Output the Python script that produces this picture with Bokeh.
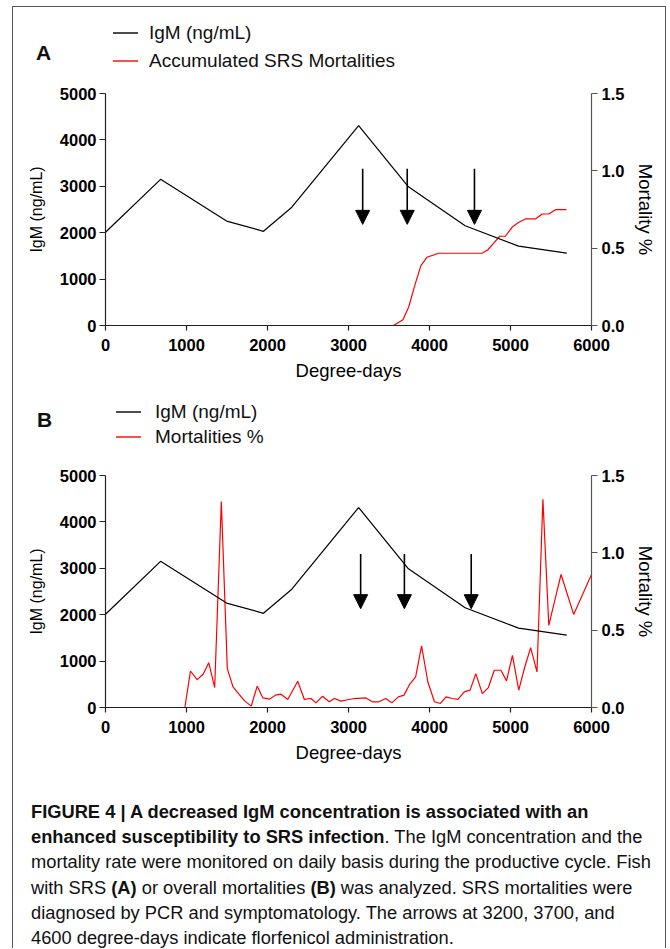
from bokeh.plotting import figure
from bokeh.models import (Range1d, LinearAxis, FixedTicker, Arrow, NormalHead,
                          ColumnDataSource, Div, NumeralTickFormatter)
from bokeh.layouts import column
from bokeh.embed import file_html
from bokeh.resources import INLINE

# ---------------- data ----------------
igm_x = [0, 680, 1495, 1950, 2300, 3125, 3740, 4440, 5100, 5695]
igm_y = [2010, 3150, 2250, 2030, 2550, 4310, 2990, 2150, 1710, 1560]

srs_x = [0, 3556, 3672, 3742, 3824, 3894, 3968, 4113, 4648, 4718, 4793, 4867,
         4937, 5019, 5102, 5184, 5308, 5390, 5473, 5555, 5691]
srs_y = [0, 0, 0.037, 0.118, 0.269, 0.387, 0.441, 0.467, 0.467, 0.488, 0.532,
         0.577, 0.577, 0.635, 0.667, 0.689, 0.689, 0.721, 0.721, 0.749, 0.749]

mort_x = [0, 980, 1049, 1131, 1205, 1275, 1348, 1430, 1504, 1574,
          1635, 1717, 1799, 1873, 1943, 2025, 2098, 2168, 2250, 2373,
          2455, 2537, 2598, 2680, 2762, 2824, 2906, 2990, 3070, 3213,
          3295, 3377, 3459, 3535, 3616, 3686, 3755, 3829, 3902, 3980,
          4061, 4135, 4204, 4278, 4351, 4429, 4502, 4571, 4653, 4727,
          4800, 4882, 4951, 5024, 5102, 5176, 5249, 5327, 5400, 5473,
          5551, 5624, 5780, 6000]
mort_y = [0, 0, 0.236, 0.18, 0.215, 0.29, 0.129, 1.332, 0.251, 0.133,
          0.095, 0.043, 0.009, 0.138, 0.062, 0.054, 0.08, 0.086, 0.052, 0.17,
          0.052, 0.058, 0.03, 0.073, 0.037, 0.058, 0.041, 0.05, 0.058, 0.062,
          0.037, 0.037, 0.058, 0.03, 0.069, 0.08, 0.15, 0.198, 0.398, 0.165,
          0.037, 0.026, 0.069, 0.058, 0.052, 0.101, 0.112, 0.219, 0.09, 0.129,
          0.241, 0.241, 0.172, 0.337, 0.112, 0.262, 0.387, 0.23, 1.347, 0.531,
          0.703, 0.86, 0.602, 0.86]

arrows_a_x = [3175, 3725, 4555]
arrows_b_x = [3150, 3690, 4515]
arrow_a_top, arrow_a_tip = 3380, 2180
arrow_b_top, arrow_b_tip = 3310, 2130

x_ticks = [0, 1000, 2000, 3000, 4000, 5000, 6000]
igm_ticks = [0, 1000, 2000, 3000, 4000, 5000]
mort_ticks = [0, 0.5, 1.0, 1.5]

legend_a = ["IgM (ng/mL)", "Accumulated SRS Mortalities"]
legend_b = ["IgM (ng/mL)", "Mortalities %"]
series_colors = ["#000000", "#ff0000"]

FONT = "Liberation Sans"
W = 652


def header(letter, labels, h, lx, lcy, gx, tx, cy):
    parts = [f'<div style="position:relative;width:{W}px;height:{h}px;'
             f'font-family:\'{FONT}\',Arial,sans-serif;color:#111;">',
             f'<div style="position:absolute;left:{lx}px;top:{lcy - 12}px;'
             f'font-size:21px;line-height:24px;font-weight:bold;">{letter}</div>']
    for lab, col, c in zip(labels, series_colors, cy):
        parts.append(f'<svg style="position:absolute;left:{gx}px;top:{c - 2}px;" '
                     f'width="25" height="4"><line x1="0" y1="2" x2="25" y2="2" '
                     f'stroke="{col}" stroke-width="1.4"/></svg>')
        parts.append(f'<div style="position:absolute;left:{tx}px;top:{c - 11}px;'
                     f'font-size:19px;line-height:22px;white-space:nowrap;">'
                     f'{lab}</div>')
    parts.append('</div>')
    return Div(text="".join(parts), width=W, height=h, margin=0)


def panel(h, top, red_x, red_y, ax_x, a_top, a_tip, left, right):
    p = figure(width=W, height=h, x_range=Range1d(0, 6000),
               y_range=Range1d(0, 5000), output_backend="svg",
               toolbar_location=None, tools="", min_border_top=top,
               min_border_bottom=65, min_border_left=left,
               min_border_right=right)
    p.extra_y_ranges = {"mort": Range1d(0, 1.5)}
    p.grid.visible = False
    p.outline_line_color = None
    p.xaxis.ticker = FixedTicker(ticks=x_ticks)
    p.yaxis.ticker = FixedTicker(ticks=igm_ticks)
    p.xaxis.axis_label = "Degree-days"
    p.yaxis.axis_label = "IgM (ng/mL)"
    rax = LinearAxis(y_range_name="mort", ticker=FixedTicker(ticks=mort_ticks),
                     formatter=NumeralTickFormatter(format="0.0"),
                     axis_label="Mortality %")
    p.add_layout(rax, "right")
    for ax in [p.xaxis[0], p.yaxis[0], rax]:
        ax.minor_tick_line_color = None
        ax.major_tick_in = 0
        ax.major_tick_out = 6
        ax.axis_line_color = "#222222"
        ax.major_tick_line_color = "#222222"
        ax.axis_line_width = 1.2
        ax.major_tick_line_width = 1.2
        ax.major_label_text_font = FONT
        ax.major_label_text_font_style = "bold"
        ax.major_label_text_font_size = "16.5px"
        ax.major_label_text_color = "black"
        ax.axis_label_text_font = FONT
        ax.axis_label_text_font_style = "normal"
        ax.axis_label_text_color = "black"
    rax.axis_line_color = "#555555"
    rax.major_tick_line_color = "#555555"
    p.xaxis.major_tick_out = 5
    p.xaxis.major_label_standoff = 8
    p.xaxis.axis_label_standoff = 6
    p.xaxis.axis_label_text_font_size = "18.5px"
    p.yaxis.major_label_standoff = 3
    p.yaxis.axis_label_standoff = 12
    p.yaxis.axis_label_text_font_size = "16px"
    rax.major_label_standoff = 4
    rax.axis_label_standoff = 8
    rax.axis_label_text_font_size = "18.5px"

    p.line(red_x, red_y, line_color=series_colors[1], line_width=1.2,
           y_range_name="mort")
    p.line(igm_x, igm_y, line_color=series_colors[0], line_width=1.2)
    src = ColumnDataSource(dict(x0=ax_x, y0=[a_top] * len(ax_x),
                                x1=ax_x, y1=[a_tip] * len(ax_x)))
    p.add_layout(Arrow(end=NormalHead(size=14, fill_color="black",
                                      line_color="black", line_width=1),
                       x_start="x0", y_start="y0", x_end="x1", y_end="y1",
                       source=src, line_color="black", line_width=1.6))
    return p


hdrA = header("A", legend_a, 72, 23, 46, 100, 136, [26, 54])
figA = panel(311, 14, srs_x, srs_y, arrows_a_x, arrow_a_top, arrow_a_tip, 92, 74)
hdrB = header("B", legend_b, 70, 24, 30, 103, 142, [22, 47])
figB = panel(312, 15, mort_x, mort_y, arrows_b_x, arrow_b_top, arrow_b_tip, 91, 73)

caption_html = (
    f'<div style="font-family: \'{FONT}\', Arial, sans-serif; '
    'font-size: 18.3px; line-height: 25.2px; color: #111; '
    'padding: 27px 0 0 18px; white-space: nowrap;">'
    '<b>FIGURE 4 | A decreased IgM concentration is associated with an</b><br>'
    '<b>enhanced susceptibility to SRS infection</b>. The IgM concentration and the<br>'
    'mortality rate were monitored on daily basis during the productive cycle. Fish<br>'
    'with SRS <b>(A)</b> or overall mortalities <b>(B)</b> was analyzed. SRS mortalities were<br>'
    'diagnosed by PCR and symptomatology. The arrows at 3200, 3700, and<br>'
    '4600 degree-days indicate florfenicol administration.'
    '</div>')
cap = Div(text=caption_html, width=W, height=176, margin=0,
          styles={"overflow": "hidden"})

layout = column(hdrA, figA, hdrB, figB, cap, spacing=0,
                styles={"margin-left": "12px", "margin-top": "6px",
                        "border-top": "1px solid #555",
                        "border-left": "1px solid #555",
                        "border-right": "1px solid #555"})

open("out.html", "w").write(file_html(layout, INLINE))
